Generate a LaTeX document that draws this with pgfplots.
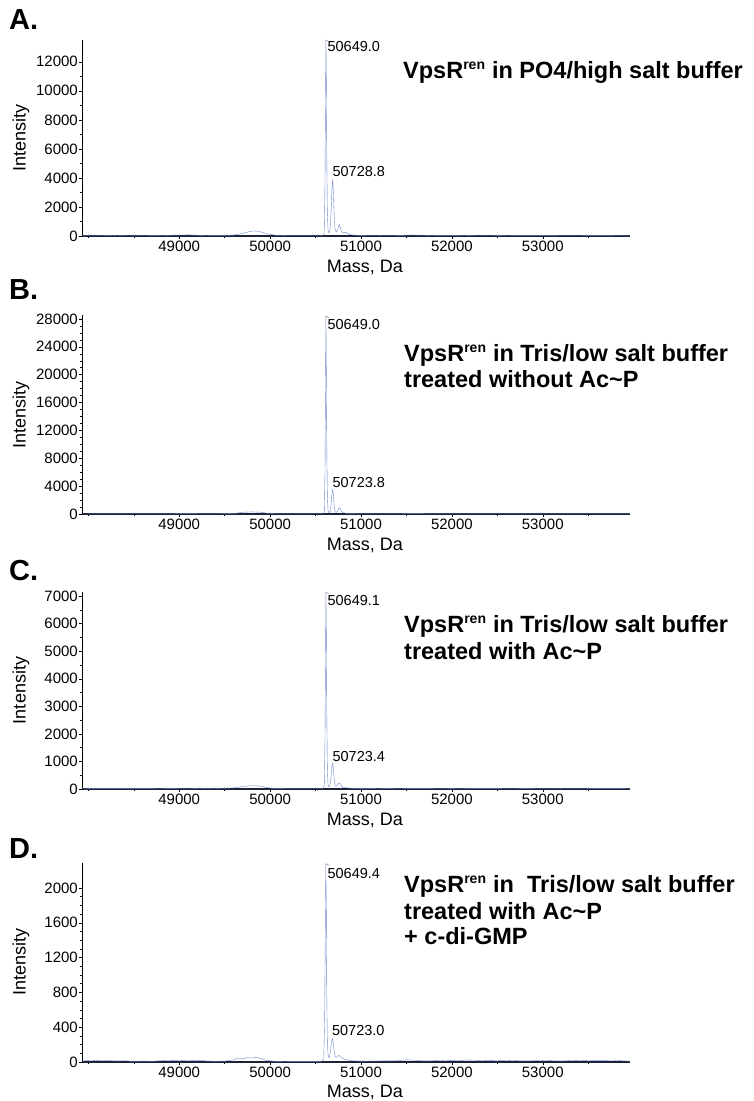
\documentclass[border=0pt]{standalone}
\usepackage{fontspec}
\setmainfont{Liberation Sans}
\usepackage{pgfplots}
\pgfplotsset{compat=1.18}
\definecolor{spec}{RGB}{112,134,206}
\definecolor{axisdark}{RGB}{30,34,56}
\tikzset{pk/.style={font=\fontsize{14.5}{16}\selectfont, inner sep=0pt}}
\pgfplotsset{
  ms/.style={
    scale only axis, width=548pt,
    xmin=47930, xmax=53960, ymin=0,
    axis x line*=bottom, axis y line*=left,
    axis line style={-},
    x axis line style={line width=1.6pt, color=axisdark},
    y axis line style={line width=0.6pt, color=black},
    xtick={49000,50000,51000,52000,53000},
    minor xtick={48000,48500,49500,50500,51500,52500,53500},
    tick align=outside,
    major tick length=3pt, minor tick length=2pt,
    tick style={black, line width=0.5pt},
    ticklabel style={font=\fontsize{15}{17}\selectfont},
    yticklabel style={inner xsep=1pt},
    xticklabel style={inner ysep=1.5pt},
    scaled ticks=false,
    /pgf/number format/1000 sep={},
    /pgf/number format/assume math mode=true,
    xlabel={Mass, Da}, ylabel={Intensity},
    label style={font=\fontsize{18}{20}\selectfont},
    xlabel style={at={(axis description cs:0.516,0)}, anchor=base, yshift=-37pt},
    ylabel style={at={(axis description cs:-0.1115,0.5)}, anchor=center},
    cycle list={{spec, line width=0.8pt, no markers}},
  },
}
\newcommand{\ttl}{\fontsize{23.5}{26}\selectfont\bfseries}
\newcommand{\lett}{\fontsize{29}{29}\selectfont\bfseries}
\newcommand{\vps}{VpsR\textsuperscript{\fontsize{14}{14}\selectfont ren}}
\begin{document}
\begin{tikzpicture}
\useasboundingbox (0,0) rectangle (753pt,1101pt);
% ---------------- A ----------------
\begin{axis}[ms, at={(82pt,865pt)}, anchor=south west, height=196pt, ymax=13500,
  ytick={0,2000,...,12000}, minor y tick num=1]
\addplot table {
47930 15
48100 15
48250 25
48320 55
48400 20
48600 15
48800 30
48950 60
49100 75
49200 50
49350 25
49500 25
49600 60
49680 160
49750 270
49820 350
49870 320
49930 220
50000 110
50080 40
50200 15
50450 10
50570 15
50595 150
50603 3000
50609 9000
50614 13500
50619 10500
50624 5000
50630 1500
50638 350
50648 200
50660 500
50670 1500
50680 3200
50688 3900
50696 3000
50705 1400
50715 450
50728 280
50745 450
50758 800
50770 650
50785 320
50800 230
50815 200
50830 260
50845 200
50870 110
50920 60
51000 40
51200 30
51450 40
51550 70
51650 60
51800 30
52100 30
52300 55
52450 50
52700 25
53000 25
53300 35
53600 25
53960 15
};
\draw[gray, line width=0.5pt] (axis cs:50614,13500) -- ++(3pt,-1.5pt);
\node[pk, anchor=north west] at (axis cs:50630,13450) {50649.0};
\node[pk, anchor=south west] at (axis cs:50685,4050) {50728.8};
\end{axis}
% ---------------- B ----------------
\begin{axis}[ms, at={(82pt,587pt)}, anchor=south west, height=198.5pt, ymax=28500,
  ytick={0,4000,...,28000}, minor y tick num=3]
\addplot table {
47930 0
48300 30
48800 20
49100 60
49300 20
49600 60
49700 250
49800 300
49900 250
49980 80
50100 10
50500 10
50585 20
50597 500
50604 6000
50609 18000
50614 28400
50619 20000
50624 9000
50630 2500
50638 400
50650 150
50662 400
50672 1500
50681 3000
50688 3500
50696 2800
50706 1000
50716 300
50730 250
50745 500
50758 900
50770 750
50785 350
50800 200
50820 150
50850 80
50950 30
51200 10
51600 60
51800 20
52300 40
52500 20
53000 20
53500 20
53960 10
};
\draw[gray, line width=0.5pt] (axis cs:50614,28400) -- ++(3pt,-1.5pt);
\node[pk, anchor=north west] at (axis cs:50630,28000) {50649.0};
\node[pk, anchor=south west] at (axis cs:50685,3700) {50723.8};
\end{axis}
% ---------------- C ----------------
\begin{axis}[ms, at={(82pt,312pt)}, anchor=south west, height=197pt, ymax=7150,
  ytick={0,1000,...,7000}, minor y tick num=1]
\addplot table {
47930 10
48300 15
48700 15
49100 30
49300 10
49600 40
49700 90
49800 120
49880 110
49950 60
50050 15
50300 5
50580 10
50596 150
50603 1500
50609 4500
50614 7140
50619 5500
50624 2500
50630 700
50638 120
50650 80
50662 200
50672 500
50681 850
50688 930
50696 750
50706 320
50716 110
50730 100
50745 170
50758 220
50770 200
50785 110
50800 60
50830 50
50880 30
50950 15
51200 10
51600 25
52000 15
52300 25
52800 15
53200 20
53960 10
};
\draw[gray, line width=0.5pt] (axis cs:50614,7140) -- ++(3pt,-1.5pt);
\node[pk, anchor=north west] at (axis cs:50630,7050) {50649.1};
\node[pk, anchor=south west] at (axis cs:50685,1000) {50723.4};
\end{axis}
% ---------------- D ----------------
\begin{axis}[ms, at={(82pt,39pt)}, anchor=south west, height=199.2pt, ymax=2290,
  ytick={0,400,...,2000}, minor y tick num=3,
  xlabel style={yshift=2pt}]
\addplot table {
47930 10
48000 18
48100 15
48200 20
48300 12
48400 15
48500 8
48600 10
48700 8
48800 15
48900 18
49000 20
49100 17
49200 20
49300 12
49400 8
49500 10
49600 25
49650 45
49700 35
49750 50
49800 45
49850 55
49900 40
49950 20
50050 8
50200 5
50400 5
50560 5
50590 30
50600 500
50607 1500
50613 2280
50618 1800
50623 800
50630 200
50640 60
50652 50
50664 120
50676 230
50686 270
50695 220
50706 110
50718 60
50732 55
50748 70
50762 75
50780 55
50800 40
50830 30
50900 15
51000 10
51200 12
51400 15
51500 25
51600 20
51700 12
51900 18
52000 15
52200 22
52400 15
52600 20
52800 12
53000 18
53200 12
53400 20
53600 15
53800 18
53960 10
};
\draw[gray, line width=0.5pt] (axis cs:50613,2280) -- ++(3pt,-1.5pt);
\node[pk, anchor=north west] at (axis cs:50630,2230) {50649.4};
\node[pk, anchor=south west] at (axis cs:50680,300) {50723.0};
\end{axis}
% ---------------- panel letters ----------------
\node[anchor=base west, inner sep=0pt, font=\lett] at (9pt,1071pt) {A.};
\node[anchor=base west, inner sep=0pt, font=\lett] at (9pt,801pt) {B.};
\node[anchor=base west, inner sep=0pt, font=\lett] at (9pt,520pt) {C.};
\node[anchor=base west, inner sep=0pt, font=\lett] at (9pt,242pt) {D.};
% ---------------- titles ----------------
\node[anchor=base west, inner sep=0pt, font=\ttl] at (403pt,1022pt) {\vps\ in PO4/high salt buffer};
\node[anchor=base west, inner sep=0pt, font=\ttl] at (404pt,739pt) {\vps\ in Tris/low salt buffer};
\node[anchor=base west, inner sep=0pt, font=\ttl] at (404pt,713pt) {treated without Ac\textasciitilde P};
\node[anchor=base west, inner sep=0pt, font=\ttl] at (404pt,468pt) {\vps\ in Tris/low salt buffer};
\node[anchor=base west, inner sep=0pt, font=\ttl] at (404pt,441pt) {treated with Ac\textasciitilde P};
\node[anchor=base west, inner sep=0pt, font=\ttl] at (404pt,208pt) {\vps\ in \ Tris/low salt buffer};
\node[anchor=base west, inner sep=0pt, font=\ttl] at (404pt,181pt) {treated with Ac\textasciitilde P};
\node[anchor=base west, inner sep=0pt, font=\ttl] at (404pt,156pt) {+ c-di-GMP};
\end{tikzpicture}
\end{document}
